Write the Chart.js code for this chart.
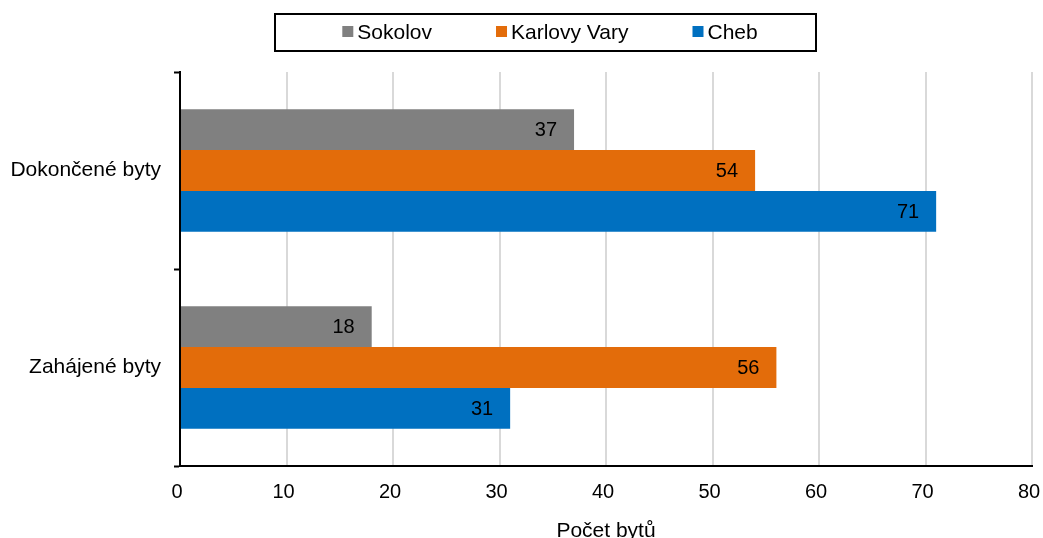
<!DOCTYPE html>
<html>
<head>
<meta charset="utf-8">
<script src="https://cdn.jsdelivr.net/npm/chart.js@4.4.1/dist/chart.umd.min.js"></script>
<style>
  body { margin: 0; background: #fff; }
  #wrap { width: 1043px; height: 538px; }
</style>
</head>
<body>
<div id="wrap"><canvas id="chart"></canvas></div>
<script>
// Data
const categories = ['Dokončené byty', 'Zahájené byty'];
const sokolov = [37, 18];
const karlovyVary = [54, 56];
const cheb = [71, 31];
const xTicks = [0, 10, 20, 30, 40, 50, 60, 70, 80];

const FONT = '"Liberation Sans", Arial, sans-serif';

// Labels inside the bar end
const valueLabels = {
    id: 'valueLabels',
    afterDatasetsDraw(chart) {
        const ctx = chart.ctx;
        ctx.save();
        ctx.font = '20px ' + FONT;
        ctx.fillStyle = '#000';
        ctx.textAlign = 'right';
        ctx.textBaseline = 'middle';
        chart.data.datasets.forEach((ds, i) => {
            chart.getDatasetMeta(i).data.forEach((bar, j) => {
                ctx.fillText(String(ds.data[j]), bar.x - 17, bar.y + 1);
            });
        });
        ctx.restore();
    }
};

// Boxed legend at top
const boxedLegend = {
    id: 'boxedLegend',
    afterDraw(chart) {
        const ctx = chart.ctx;
        ctx.save();
        ctx.font = '21px ' + FONT;
        const sq = 11, gapSq = 4, gapItem = 64;
        const items = chart.data.datasets.map(ds => ({
            label: ds.label,
            color: ds.backgroundColor,
            w: sq + gapSq + ctx.measureText(ds.label).width
        }));
        const total = items.reduce((s, it) => s + it.w, 0) + gapItem * (items.length - 1);
        let x = 550 - total / 2;
        const cy = 32;
        ctx.textBaseline = 'middle';
        ctx.textAlign = 'left';
        items.forEach(it => {
            ctx.fillStyle = it.color;
            ctx.fillRect(x, cy - 6, sq, sq);
            ctx.fillStyle = '#000';
            ctx.fillText(it.label, x + sq + gapSq, cy + 1);
            x += it.w + gapItem;
        });
        ctx.strokeStyle = '#000';
        ctx.lineWidth = 2;
        ctx.strokeRect(275, 14, 541, 37);
        ctx.restore();
    }
};

new Chart(document.getElementById('chart'), {
    type: 'bar',
    data: {
        labels: categories,
        datasets: [
            { label: 'Sokolov', data: sokolov, backgroundColor: '#808080' },
            { label: 'Karlovy Vary', data: karlovyVary, backgroundColor: '#E36C0A' },
            { label: 'Cheb', data: cheb, backgroundColor: '#0070C0' }
        ]
    },
    options: {
        indexAxis: 'y',
        responsive: true,
        maintainAspectRatio: false,
        animation: false,
        layout: { padding: { top: 72, right: 11, left: 0, bottom: 0 } },
        datasets: { bar: { categoryPercentage: 0.621, barPercentage: 1 } },
        plugins: {
            legend: { display: false },
            tooltip: { enabled: false }
        },
        scales: {
            x: {
                min: 0,
                max: 80,
                afterBuildTicks: scale => { scale.ticks = xTicks.map(v => ({ value: v })); },
                afterFit: scale => { scale.height = 72; scale.paddingLeft = 0; scale.paddingRight = 0; },
                grid: {
                    color: ctx => (ctx.tick && ctx.tick.value === 0) ? 'rgba(0,0,0,0)' : '#d9d9d9',
                    lineWidth: 2,
                    drawTicks: false
                },
                border: { display: true, color: '#000', width: 2 },
                ticks: { color: '#000', padding: 14, labelOffset: -3, font: { family: FONT, size: 20 } },
                title: {
                    display: true,
                    text: 'Počet bytů',
                    color: '#000',
                    font: { family: FONT, size: 21, lineHeight: 1 },
                    padding: { top: 0, bottom: -4 }
                }
            },
            y: {
                z: 1,
                afterFit: scale => { scale.width = 180; scale.paddingTop = 0; scale.paddingBottom = 0; },
                grid: {
                    offset: true,
                    drawOnChartArea: false,
                    drawTicks: true,
                    tickLength: 6,
                    tickColor: '#000',
                    tickWidth: 2
                },
                border: { display: true, color: '#000', width: 2 },
                ticks: { color: '#000', padding: 13, font: { family: FONT, size: 21 } }
            }
        }
    },
    plugins: [valueLabels, boxedLegend]
});
</script>
</body>
</html>
